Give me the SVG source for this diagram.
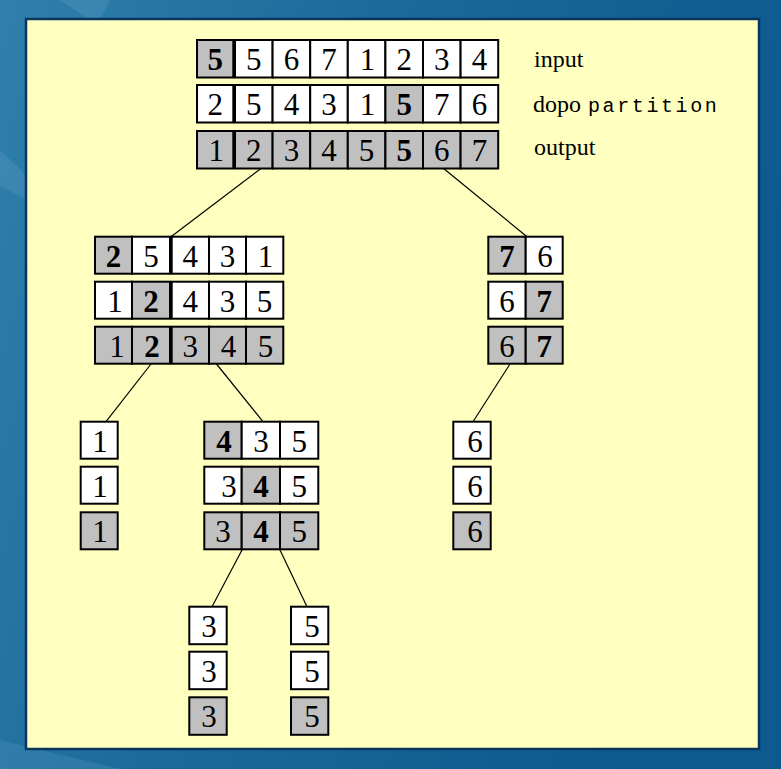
<svg xmlns="http://www.w3.org/2000/svg" width="781" height="769" viewBox="0 0 781 769">
<defs>
<linearGradient id="bg" x1="0" y1="0" x2="1" y2="0.3">
<stop offset="0" stop-color="#2f80ab"/>
<stop offset="0.45" stop-color="#1b6a9a"/>
<stop offset="1" stop-color="#0c5a8e"/>
</linearGradient>
<style>
.w{fill:#ffffff;stroke:#000;stroke-width:2}
.g{fill:#c0c0c0;stroke:#000;stroke-width:2}
.n{font-family:"Liberation Serif","Times New Roman",serif;font-size:31px;text-anchor:middle;fill:#000}
.b{font-weight:bold}
.lbl{font-family:"Liberation Serif","Times New Roman",serif;font-size:24px;fill:#000}
.mono{font-family:"Liberation Mono","Courier New",monospace;font-size:20px;letter-spacing:2.6px;fill:#000}
.c line{stroke:#000;stroke-width:1.2}
</style>
</defs>
<rect x="0" y="0" width="781" height="769" fill="url(#bg)"/>
<path d="M60 0 L110 0 L100 20 L90 20 Z" fill="#5a9cc0" opacity="0.35"/>
<path d="M0 150 L26 175 L26 200 L0 185 Z" fill="#5a9cc0" opacity="0.35"/>
<path d="M0 740 L120 769 L0 769 Z" fill="#4a90b8" opacity="0.35"/>
<rect x="26" y="19" width="733" height="730" fill="#ffffc0" stroke="#0a3560" stroke-width="2.5"/>

<g id="connectors" class="c">
<line x1="261.7" y1="168" x2="171" y2="236.7"/>
<line x1="443" y1="168" x2="527" y2="236.7"/>
<line x1="151" y1="364" x2="106" y2="421.7"/>
<line x1="216.5" y1="364" x2="263" y2="421.7"/>
<line x1="510" y1="364" x2="473" y2="421.7"/>
<line x1="242" y1="550" x2="212" y2="606.7"/>
<line x1="280" y1="550" x2="307" y2="606.7"/>
</g>

<g id="labels">
<text class="lbl" x="534" y="67">input</text>
<text class="lbl" x="533" y="112">dopo</text>
<text class="mono" x="588" y="112">partition</text>
<text class="lbl" x="534" y="155">output</text>
</g>

<!-- Level 1 -->
<g id="l1-input">
<rect class="g" x="197" y="40" width="36.3" height="37.5"/>
<rect class="w" x="235" y="40" width="37.6" height="37.5"/>
<rect class="w" x="272.6" y="40" width="37.6" height="37.5"/>
<rect class="w" x="310.2" y="40" width="37.6" height="37.5"/>
<rect class="w" x="347.8" y="40" width="37.6" height="37.5"/>
<rect class="w" x="385.4" y="40" width="37.6" height="37.5"/>
<rect class="w" x="423" y="40" width="37.6" height="37.5"/>
<rect class="w" x="460.6" y="40" width="37.6" height="37.5"/>
<text class="n b" x="215.2" y="69.5">5</text>
<text class="n" x="253.8" y="69.5">5</text>
<text class="n" x="291.4" y="69.5">6</text>
<text class="n" x="329" y="69.5">7</text>
<text class="n" x="367.6" y="69.5">1</text>
<text class="n" x="404.2" y="69.5">2</text>
<text class="n" x="441.8" y="69.5">3</text>
<text class="n" x="479.4" y="69.5">4</text>
</g>
<g id="l1-partition">
<rect class="w" x="197" y="85" width="36.3" height="37.5"/>
<rect class="w" x="235" y="85" width="37.6" height="37.5"/>
<rect class="w" x="272.6" y="85" width="37.6" height="37.5"/>
<rect class="w" x="310.2" y="85" width="37.6" height="37.5"/>
<rect class="w" x="347.8" y="85" width="37.6" height="37.5"/>
<rect class="g" x="385.4" y="85" width="37.6" height="37.5"/>
<rect class="w" x="423" y="85" width="37.6" height="37.5"/>
<rect class="w" x="460.6" y="85" width="37.6" height="37.5"/>
<text class="n" x="215.2" y="114.5">2</text>
<text class="n" x="253.8" y="114.5">5</text>
<text class="n" x="291.4" y="114.5">4</text>
<text class="n" x="329" y="114.5">3</text>
<text class="n" x="367.6" y="114.5">1</text>
<text class="n b" x="404.2" y="114.5">5</text>
<text class="n" x="441.8" y="114.5">7</text>
<text class="n" x="479.4" y="114.5">6</text>
</g>
<g id="l1-output">
<rect class="g" x="197" y="131" width="36.3" height="37.5"/>
<rect class="g" x="235" y="131" width="37.6" height="37.5"/>
<rect class="g" x="272.6" y="131" width="37.6" height="37.5"/>
<rect class="g" x="310.2" y="131" width="37.6" height="37.5"/>
<rect class="g" x="347.8" y="131" width="37.6" height="37.5"/>
<rect class="g" x="385.4" y="131" width="37.6" height="37.5"/>
<rect class="g" x="423" y="131" width="37.6" height="37.5"/>
<rect class="g" x="460.6" y="131" width="37.6" height="37.5"/>
<text class="n" x="216.2" y="160.5">1</text>
<text class="n" x="253.8" y="160.5">2</text>
<text class="n" x="291.4" y="160.5">3</text>
<text class="n" x="329" y="160.5">4</text>
<text class="n" x="366.6" y="160.5">5</text>
<text class="n b" x="404.2" y="160.5">5</text>
<text class="n" x="441.8" y="160.5">6</text>
<text class="n" x="479.4" y="160.5">7</text>
</g>

<!-- Level 2 left -->
<g id="l2-left-input">
<rect class="g" x="95" y="236.7" width="37" height="37"/>
<rect class="w" x="132" y="236.7" width="38" height="37"/>
<rect class="w" x="171.7" y="236.7" width="37.3" height="37"/>
<rect class="w" x="209" y="236.7" width="37" height="37"/>
<rect class="w" x="246" y="236.7" width="37.3" height="37"/>
<text class="n b" x="113.5" y="266.5">2</text>
<text class="n" x="151" y="266.5">5</text>
<text class="n" x="190.3" y="266.5">4</text>
<text class="n" x="227.5" y="266.5">3</text>
<text class="n" x="265.6" y="266.5">1</text>
</g>
<g id="l2-left-partition">
<rect class="w" x="95" y="281.7" width="37" height="37"/>
<rect class="g" x="132" y="281.7" width="38" height="37"/>
<rect class="w" x="171.7" y="281.7" width="37.3" height="37"/>
<rect class="w" x="209" y="281.7" width="37" height="37"/>
<rect class="w" x="246" y="281.7" width="37.3" height="37"/>
<text class="n" x="115" y="311.5">1</text>
<text class="n b" x="151" y="311.5">2</text>
<text class="n" x="190.3" y="311.5">4</text>
<text class="n" x="227.5" y="311.5">3</text>
<text class="n" x="264.6" y="311.5">5</text>
</g>
<g id="l2-left-output">
<rect class="g" x="95" y="326.7" width="37" height="37"/>
<rect class="g" x="132" y="326.7" width="38" height="37"/>
<rect class="g" x="171.7" y="326.7" width="37.3" height="37"/>
<rect class="g" x="209" y="326.7" width="37" height="37"/>
<rect class="g" x="246" y="326.7" width="37.3" height="37"/>
<text class="n" x="117" y="356.5">1</text>
<text class="n b" x="152" y="356.5">2</text>
<text class="n" x="190.3" y="356.5">3</text>
<text class="n" x="228.5" y="356.5">4</text>
<text class="n" x="265.6" y="356.5">5</text>
</g>

<!-- Level 2 right -->
<g id="l2-right-input">
<rect class="g" x="488.3" y="236.7" width="37.4" height="37"/>
<rect class="w" x="525.7" y="236.7" width="37" height="37"/>
<text class="n b" x="507" y="266.5">7</text>
<text class="n" x="545" y="266.5">6</text>
</g>
<g id="l2-right-partition">
<rect class="w" x="488.3" y="281.7" width="37.4" height="37"/>
<rect class="g" x="525.7" y="281.7" width="37" height="37"/>
<text class="n" x="507" y="311.5">6</text>
<text class="n b" x="544.2" y="311.5">7</text>
</g>
<g id="l2-right-output">
<rect class="g" x="488.3" y="326.7" width="37.4" height="37"/>
<rect class="g" x="525.7" y="326.7" width="37" height="37"/>
<text class="n" x="507" y="356.5">6</text>
<text class="n b" x="544.2" y="356.5">7</text>
</g>

<!-- Level 3 -->
<g id="l3-one">
<rect class="w" x="80.7" y="421.7" width="37" height="37"/>
<rect class="w" x="80.7" y="466.7" width="37" height="37"/>
<rect class="g" x="80.7" y="512.3" width="37" height="37"/>
<text class="n" x="100" y="451.5">1</text>
<text class="n" x="100" y="496.5">1</text>
<text class="n" x="100" y="542">1</text>
</g>
<g id="l3-mid-input">
<rect class="g" x="204.3" y="421.7" width="37.4" height="37"/>
<rect class="w" x="241.7" y="421.7" width="38.3" height="37"/>
<rect class="w" x="280" y="421.7" width="38.3" height="37"/>
<text class="n b" x="224" y="451.5">4</text>
<text class="n" x="261" y="451.5">3</text>
<text class="n" x="299.2" y="451.5">5</text>
</g>
<g id="l3-mid-partition">
<rect class="w" x="204.3" y="466.7" width="37.4" height="37"/>
<rect class="g" x="241.7" y="466.7" width="38.3" height="37"/>
<rect class="w" x="280" y="466.7" width="38.3" height="37"/>
<text class="n" x="229" y="496.5">3</text>
<text class="n b" x="261" y="496.5">4</text>
<text class="n" x="299.2" y="496.5">5</text>
</g>
<g id="l3-mid-output">
<rect class="g" x="204.3" y="512.3" width="37.4" height="37"/>
<rect class="g" x="241.7" y="512.3" width="38.3" height="37"/>
<rect class="g" x="280" y="512.3" width="38.3" height="37"/>
<text class="n" x="223" y="542">3</text>
<text class="n b" x="261" y="542">4</text>
<text class="n" x="299.2" y="542">5</text>
</g>
<g id="l3-six">
<rect class="w" x="453.3" y="421.7" width="37.4" height="37"/>
<rect class="w" x="453.3" y="466.7" width="37.4" height="37"/>
<rect class="g" x="453.3" y="512.3" width="37.4" height="37"/>
<text class="n" x="475" y="451.5">6</text>
<text class="n" x="475" y="496.5">6</text>
<text class="n" x="475" y="542">6</text>
</g>

<!-- Level 4 -->
<g id="l4-three">
<rect class="w" x="189.3" y="606.7" width="37.4" height="37.5"/>
<rect class="w" x="189.3" y="651.7" width="37.4" height="37.5"/>
<rect class="g" x="189.3" y="697.3" width="37.4" height="37.5"/>
<text class="n" x="209" y="636.5">3</text>
<text class="n" x="209" y="681.5">3</text>
<text class="n" x="209" y="727">3</text>
</g>
<g id="l4-five">
<rect class="w" x="291" y="606.7" width="37.3" height="37.5"/>
<rect class="w" x="291" y="651.7" width="37.3" height="37.5"/>
<rect class="g" x="291" y="697.3" width="37.3" height="37.5"/>
<text class="n" x="312" y="636.5">5</text>
<text class="n" x="312" y="681.5">5</text>
<text class="n" x="312" y="727">5</text>
</g>
</svg>
